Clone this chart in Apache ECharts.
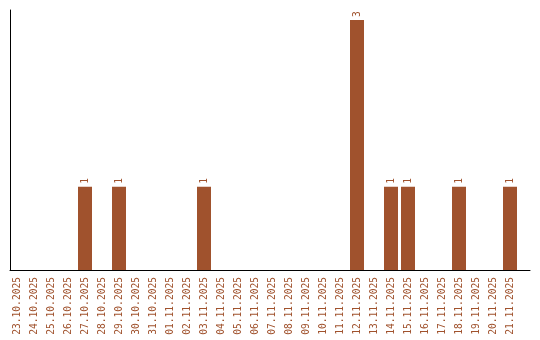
<!DOCTYPE html>
<html><head><meta charset="utf-8">
<script src="https://cdn.jsdelivr.net/npm/echarts@6/dist/echarts.min.js"></script>
<style>html,body{margin:0;padding:0;background:#fff}#c{width:540px;height:340px}</style>
</head><body><div id="c"></div>
<script>
var categories = ["23.10.2025","24.10.2025","25.10.2025","26.10.2025","27.10.2025","28.10.2025","29.10.2025","30.10.2025","31.10.2025","01.11.2025","02.11.2025","03.11.2025","04.11.2025","05.11.2025","06.11.2025","07.11.2025","08.11.2025","09.11.2025","10.11.2025","11.11.2025","12.11.2025","13.11.2025","14.11.2025","15.11.2025","16.11.2025","17.11.2025","18.11.2025","19.11.2025","20.11.2025","21.11.2025"];
var counts = [0,0,0,0,1,0,1,0,0,0,0,1,0,0,0,0,0,0,0,0,3,0,1,1,0,0,1,0,0,1];
var col = '#a0522d';
var mono = 'DejaVu Sans Mono';
var chart = echarts.init(document.getElementById('c'));
chart.setOption({
  animation: false,
  grid: [
    {left: 8.5, width: 510, top: 10, height: 260},
    {left: 10, width: 520, top: 10, height: 260}
  ],
  xAxis: [
    {type: 'category', gridIndex: 0, data: categories,
     axisLine: {show: false}, axisTick: {show: false},
     axisLabel: {rotate: 90, margin: 7, color: col, fontFamily: mono, fontSize: 9.6, interval: 0}},
    {type: 'value', gridIndex: 1, min: 0, max: 1,
     axisLine: {show: true, lineStyle: {color: '#000', width: 1}},
     axisTick: {show: false}, axisLabel: {show: false}, splitLine: {show: false}}
  ],
  yAxis: [
    {type: 'value', gridIndex: 0, min: 0, max: 3.12, show: false, splitLine: {show: false}},
    {type: 'value', gridIndex: 1, min: 0, max: 1,
     axisLine: {show: true, lineStyle: {color: '#000', width: 1}},
     axisTick: {show: false}, axisLabel: {show: false}, splitLine: {show: false}}
  ],
  series: [{
    type: 'bar', xAxisIndex: 0, yAxisIndex: 0, data: counts, barWidth: 14,
    itemStyle: {color: col},
    label: {show: true, position: 'top', rotate: 90, distance: 3, color: col,
            align: 'left', verticalAlign: 'middle',
            fontFamily: mono, fontSize: 9.6,
            formatter: function (p) { return p.value ? String(p.value) : ''; }}
  }]
});
</script></body></html>
